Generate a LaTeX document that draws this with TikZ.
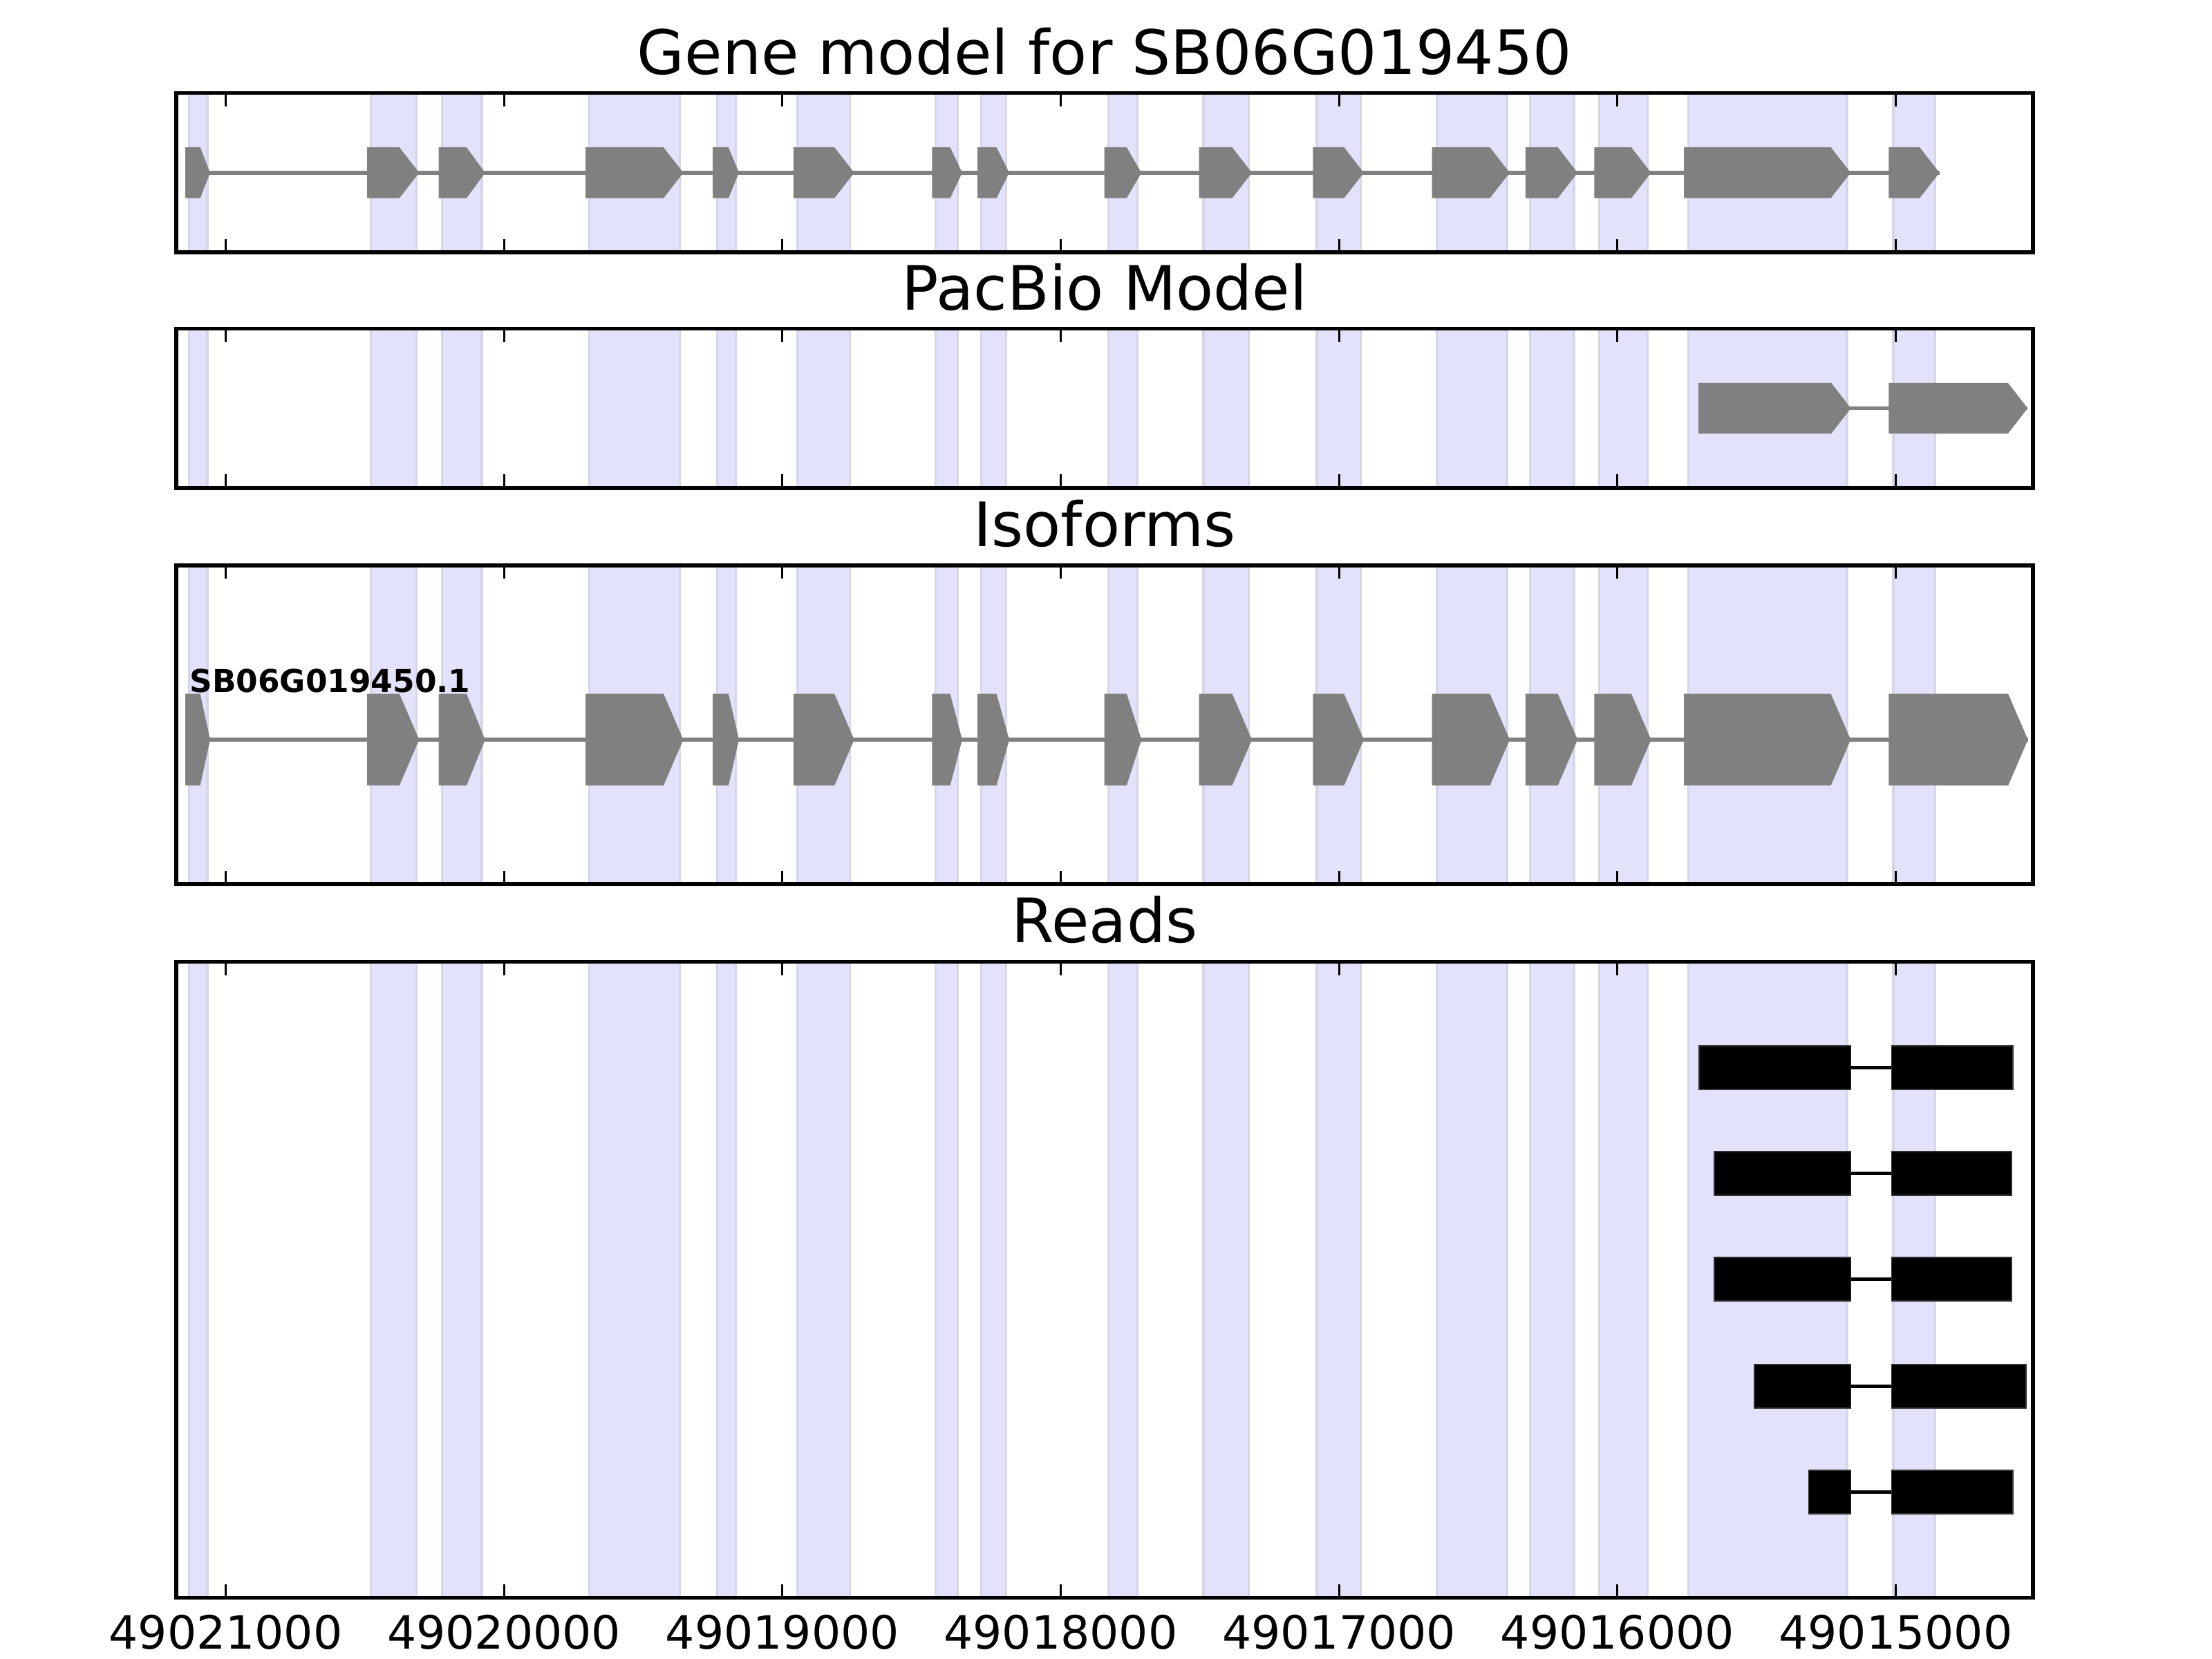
\documentclass[tikz,border=0pt]{standalone}
\usepackage{fontspec}
\setmainfont{DejaVu Sans}

\definecolor{bandfill}{RGB}{226,226,251}
\definecolor{bandedge}{RGB}{214,214,232}
\definecolor{exongray}{RGB}{128,128,128}

\tikzset{
  band/.style={fill=bandfill, draw=bandedge, line width=0.6pt},
  exon/.style={fill=exongray},
  intron/.style={draw=exongray, line width=1pt},
  readbox/.style={fill=black, draw=black!80, line width=0.3pt},
  readline/.style={draw=black, line width=0.8pt},
  frame/.style={draw=black, line width=1pt},
  tickmark/.style={draw=black, line width=0.5pt},
  paneltitle/.style={anchor=base, inner sep=0pt, font=\fontsize{16}{19}\selectfont},
  ticklabel/.style={anchor=base, inner sep=0pt, font=\fontsize{12}{14}\selectfont},
  isolabel/.style={anchor=base west, inner sep=0pt, font=\fontsize{8.2}{10}\selectfont\bfseries},
}

% start, end, centre y, half height
\newcommand{\exonarrow}[4]{%
  \pgfmathsetmacro{\exontip}{min(0.071,0.4*(#2-(#1)))}%
  \fill[exon] (#1,#3-#4) -- (#2-\exontip,#3-#4) -- (#2,#3)
    -- (#2-\exontip,#3+#4) -- (#1,#3+#4) -- cycle;}

\begin{document}
\begin{tikzpicture}[x=2.5568cm, y=-0.012959cm]
% x in kb left of 49021000, y in px from the top
\useasboundingbox (-0.8110,0) rectangle (7.1363,1176);

\def\xl{-0.1774}
\def\xr{6.4926}
\def\xm{3.1576}

\def\bands{-0.142/-0.076, 0.511/0.676, 0.767/0.910, 1.297/1.622,
  1.756/1.823, 2.044/2.233, 2.541/2.620, 2.704/2.794, 3.161/3.266,
  3.503/3.665, 3.910/4.068, 4.342/4.593, 4.676/4.834, 4.924/5.098,
  5.245/5.815, 5.981/6.131}
\def\geneexons{-0.155/-0.066, 0.498/0.685, 0.755/0.922, 1.283/1.634,
  1.740/1.834, 2.030/2.248, 2.528/2.636, 2.691/2.805, 3.147/3.280,
  3.487/3.677, 3.896/4.079, 4.324/4.603, 4.660/4.847, 4.907/5.111,
  5.229/5.828, 5.965/6.147}
\def\isoexons{-0.155/-0.066, 0.498/0.685, 0.755/0.922, 1.283/1.634,
  1.740/1.834, 2.030/2.248, 2.528/2.636, 2.691/2.805, 3.147/3.280,
  3.487/3.677, 3.896/4.079, 4.324/4.603, 4.660/4.847, 4.907/5.111,
  5.229/5.828, 5.965/6.465}

\begin{scope}[shift={(0.01,0)}]
% exon bands behind every panel
\foreach \ptop/\pbot in {66/179, 233/346, 401/627, 682/1133} {
  \foreach \a/\b in \bands {
    \path[band] (\a,\ptop) rectangle (\b,\pbot);
  }
}

% gene model
\draw[intron] (-0.155,122.5) -- (6.147,122.5);
\foreach \a/\b in \geneexons {\exonarrow{\a}{\b}{122.5}{18}}

% pacbio model
\draw[intron] (5.281,289.5) -- (6.464,289.5);
\exonarrow{5.281}{5.829}{289.5}{18}
\exonarrow{5.965}{6.464}{289.5}{18}

% isoforms
\node[isolabel] (iso-name) at (-0.142,491) {SB06G019450.1};
\draw[intron] (-0.155,524.5) -- (6.465,524.5);
\foreach \a/\b in \isoexons {\exonarrow{\a}{\b}{524.5}{32.5}}

% reads
\foreach \y/\s/\e in {757/5.283/6.411, 832/5.338/6.406, 907/5.338/6.406,
    983/5.482/6.458, 1058/5.677/6.411} {
  \draw[readline] (\s,\y) -- (\e,\y);
  \filldraw[readbox] (\s,\y-15.5) rectangle (5.829,\y+15.5);
  \filldraw[readbox] (5.975,\y-15.5) rectangle (\e,\y+15.5);
}
\end{scope}

\node[paneltitle] (gene-title) at (\xm,52.5) {Gene model for SB06G019450};
\node[paneltitle] (pacbio-title) at (\xm,220) {PacBio Model};
\node[paneltitle] (iso-title) at (\xm,387.5) {Isoforms};
\node[paneltitle] (reads-title) at (\xm,668.5) {Reads};

% ticks and frames
\foreach \ptop/\pbot in {66/179, 233/346, 401/627, 682/1133} {
  \foreach \k in {0,...,6} {
    \draw[tickmark] (\k,\ptop) -- ++(0,9.5);
    \draw[tickmark] (\k,\pbot) -- ++(0,-9.5);
  }
  \draw[frame] (\xl,\ptop) rectangle (\xr,\pbot);
}
\foreach \k/\lab in {0/21, 1/20, 2/19, 3/18, 4/17, 5/16, 6/15} {
  \node[ticklabel] (tick-\k) at (\k,1169.5) {490\lab000};
}

\end{tikzpicture}
\end{document}
